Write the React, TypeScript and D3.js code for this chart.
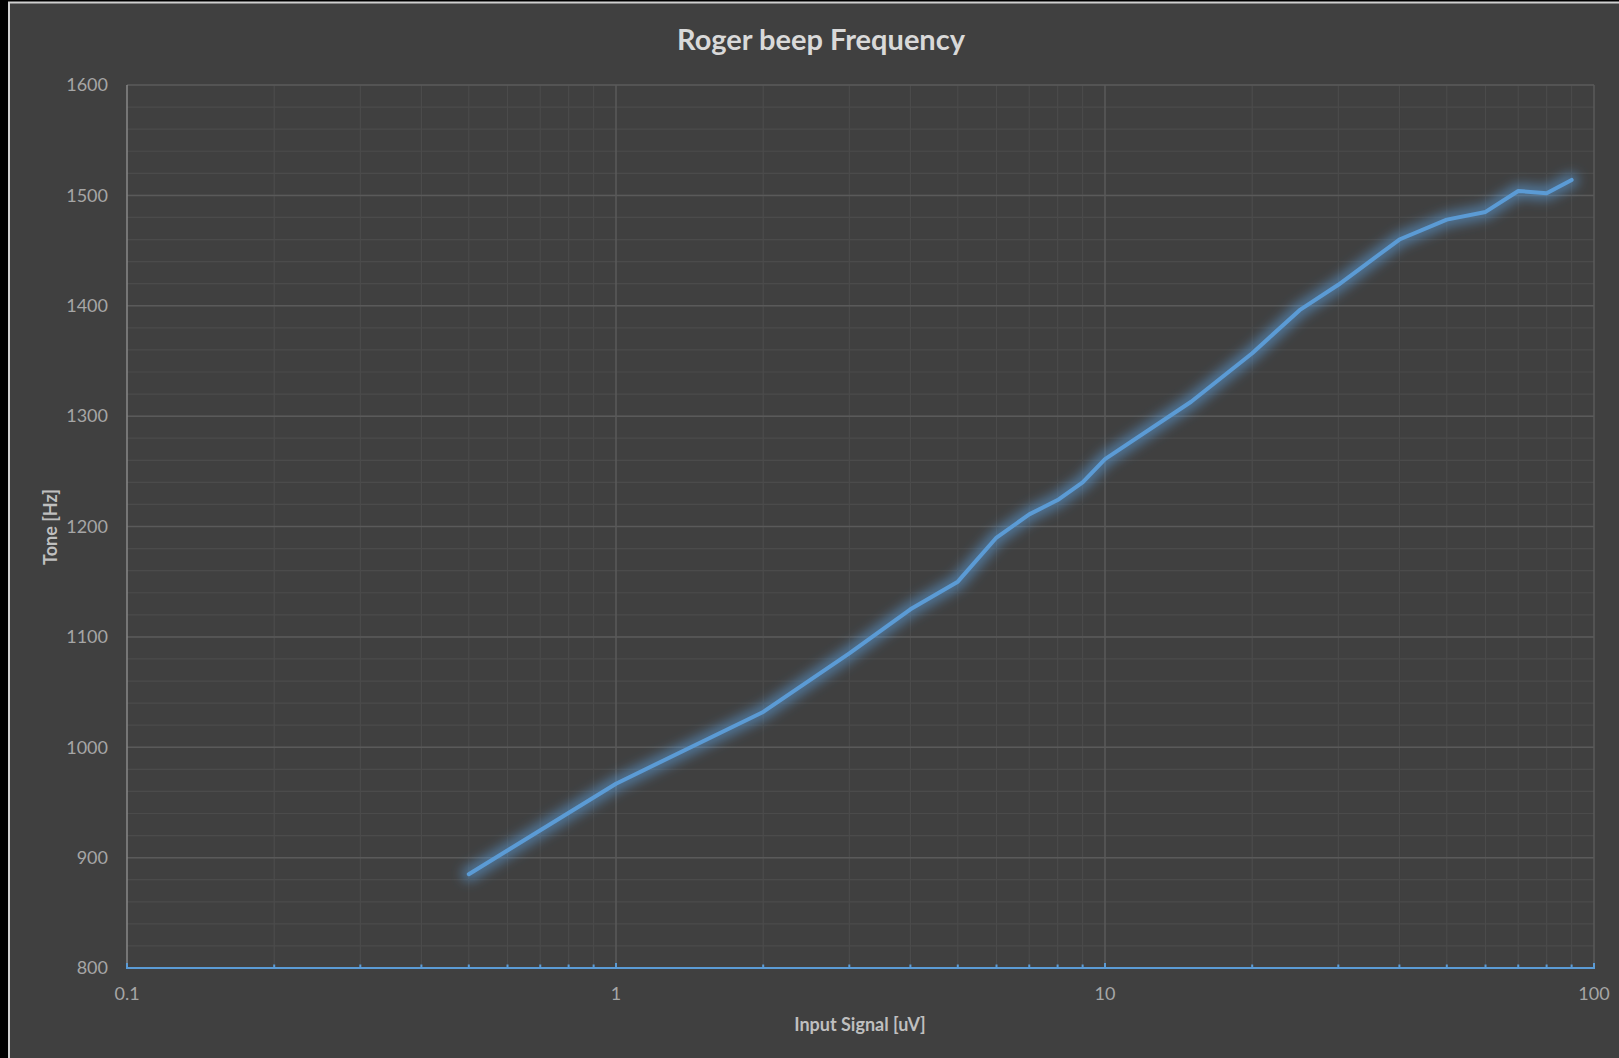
import { useEffect, useRef } from "react";
import * as d3 from "d3";

const signal = [0.5, 1, 2, 3, 4, 5, 6, 7, 8, 9, 10, 15, 20, 25, 30, 40, 50, 60, 70, 80, 90];
const tone = [885, 967, 1032, 1085, 1125, 1150, 1190, 1211, 1224, 1240, 1261, 1313, 1357, 1396, 1419, 1460, 1478, 1485, 1504, 1502, 1514];
const xTickLabels = ["0.1", "1", "10", "100"];
const yDomain: [number, number] = [800, 1600];
const title = "Roger beep Frequency";
const xTitle = "Input Signal [uV]";
const yTitle = "Tone [Hz]";

export default function App() {
  const svgRef = useRef<SVGSVGElement>(null);

  useEffect(() => {
    document.body.style.margin = "0";
    if (!svgRef.current) return;
    const svg = d3.select(svgRef.current);
    svg.selectAll("*").remove();

    const width = 1619;
    const height = 1058;
    const margin = { top: 85, right: 25, bottom: 90, left: 127 };
    const chartW = width - margin.left - margin.right;
    const chartH = height - margin.top - margin.bottom;
    const font = "Lato, 'Open Sans', sans-serif";

    // frame
    svg.append("rect").attr("width", width).attr("height", height).attr("fill", "#000");
    svg
      .append("rect")
      .attr("x", 9)
      .attr("y", 2.5)
      .attr("width", width)
      .attr("height", height)
      .attr("fill", "#404040")
      .attr("stroke", "#d0d0d0")
      .attr("stroke-width", 2);

    const x = d3.scaleLog().domain([0.1, 100]).range([0, chartW]);
    const y = d3.scaleLinear().domain(yDomain).range([chartH, 0]);

    const defs = svg.append("defs");
    const glow = defs
      .append("filter")
      .attr("id", "glow")
      .attr("x", "-10%")
      .attr("y", "-10%")
      .attr("width", "120%")
      .attr("height", "120%");
    glow.append("feGaussianBlur").attr("in", "SourceGraphic").attr("stdDeviation", 6).attr("result", "blur");

    const g = svg.append("g").attr("transform", `translate(${margin.left},${margin.top})`);

    // minor grid
    const minorY = d3.range(yDomain[0], yDomain[1] + 1, 20);
    g.append("g")
      .selectAll("line")
      .data(minorY)
      .join("line")
      .attr("x1", 0)
      .attr("x2", chartW)
      .attr("y1", (d) => y(d))
      .attr("y2", (d) => y(d))
      .attr("stroke", "#4b4b4b")
      .attr("stroke-width", 1.2);

    const minorX = x.ticks().filter((d) => Math.abs(Math.log10(d) - Math.round(Math.log10(d))) > 1e-6);
    g.append("g")
      .selectAll("line")
      .data(minorX)
      .join("line")
      .attr("x1", (d) => x(d))
      .attr("x2", (d) => x(d))
      .attr("y1", 0)
      .attr("y2", chartH)
      .attr("stroke", "#4b4b4b")
      .attr("stroke-width", 1.2);

    // major grid
    const majorY = d3.range(yDomain[0], yDomain[1] + 1, 100);
    g.append("g")
      .selectAll("line")
      .data(majorY)
      .join("line")
      .attr("x1", 0)
      .attr("x2", chartW)
      .attr("y1", (d) => y(d))
      .attr("y2", (d) => y(d))
      .attr("stroke", "#5a5a5a")
      .attr("stroke-width", 1.5);

    const majorX = xTickLabels.map(Number);
    g.append("g")
      .selectAll("line")
      .data(majorX.slice(1))
      .join("line")
      .attr("x1", (d) => x(d))
      .attr("x2", (d) => x(d))
      .attr("y1", 0)
      .attr("y2", chartH)
      .attr("stroke", "#5a5a5a")
      .attr("stroke-width", 1.5);

    // left axis line
    g.append("line")
      .attr("x1", 0)
      .attr("x2", 0)
      .attr("y1", 0)
      .attr("y2", chartH)
      .attr("stroke", "#888")
      .attr("stroke-width", 1.5);

    // y labels
    g.append("g")
      .selectAll("text")
      .data(majorY)
      .join("text")
      .attr("x", -19)
      .attr("y", (d) => y(d))
      .attr("dy", "0.35em")
      .attr("text-anchor", "end")
      .attr("fill", "#a6a6a6")
      .attr("font-family", font)
      .attr("font-size", 18)
      .text((d) => String(d));

    // series line with glow
    const pts = signal.map((s, i) => [s, tone[i]] as [number, number]);
    const line = d3
      .line<[number, number]>()
      .x((d) => x(d[0]))
      .y((d) => y(d[1]));

    g.append("path")
      .datum(pts)
      .attr("d", line)
      .attr("fill", "none")
      .attr("stroke", "#5b9bd5")
      .attr("stroke-opacity", 0.6)
      .attr("stroke-width", 14)
      .attr("stroke-linejoin", "round")
      .attr("stroke-linecap", "round")
      .attr("filter", "url(#glow)");

    g.append("path")
      .datum(pts)
      .attr("d", line)
      .attr("fill", "none")
      .attr("stroke", "#5b9bd5")
      .attr("stroke-width", 4)
      .attr("stroke-linejoin", "round")
      .attr("stroke-linecap", "round");

    // x axis (blue) with ticks pointing up
    g.append("g")
      .selectAll("line")
      .data(x.ticks())
      .join("line")
      .attr("x1", (d) => x(d))
      .attr("x2", (d) => x(d))
      .attr("y1", chartH)
      .attr("y2", (d) => (majorX.includes(d) ? chartH - 5 : chartH - 3.5))
      .attr("stroke", "#5b9bd5")
      .attr("stroke-width", 2);

    g.append("line")
      .attr("x1", -1)
      .attr("x2", chartW + 1)
      .attr("y1", chartH)
      .attr("y2", chartH)
      .attr("stroke", "#5b9bd5")
      .attr("stroke-width", 2.2);

    g.append("g")
      .selectAll("text")
      .data(xTickLabels)
      .join("text")
      .attr("x", (d) => x(Number(d)))
      .attr("y", chartH + 26)
      .attr("dy", "0.35em")
      .attr("text-anchor", "middle")
      .attr("fill", "#a6a6a6")
      .attr("font-family", font)
      .attr("font-size", 18)
      .text((d) => d);

    // titles
    svg
      .append("text")
      .attr("x", 821)
      .attr("y", 50)
      .attr("text-anchor", "middle")
      .attr("fill", "#d9d9d9")
      .attr("font-family", font)
      .attr("font-weight", "bold")
      .attr("font-size", 29)
      .text(title);

    svg
      .append("text")
      .attr("x", 860)
      .attr("y", 1031)
      .attr("text-anchor", "middle")
      .attr("fill", "#bfbfbf")
      .attr("font-family", font)
      .attr("font-weight", "bold")
      .attr("font-size", 18)
      .text(xTitle);

    svg
      .append("text")
      .attr("transform", "translate(51,527) rotate(-90)")
      .attr("dy", "0.35em")
      .attr("text-anchor", "middle")
      .attr("fill", "#bfbfbf")
      .attr("font-family", font)
      .attr("font-weight", "bold")
      .attr("font-size", 18)
      .text(yTitle);
  }, []);

  return <svg ref={svgRef} width={1619} height={1058} style={{ display: "block" }} />;
}
